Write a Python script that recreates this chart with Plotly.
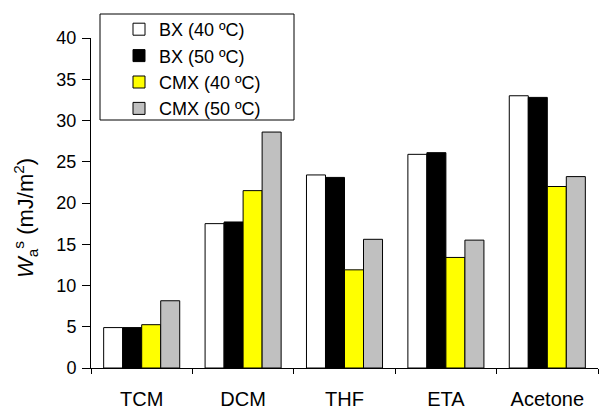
import plotly.graph_objects as go

categories = ["TCM", "DCM", "THF", "ETA", "Acetone"]
bx40 = [4.9, 17.5, 23.4, 25.9, 33.0]
bx50 = [4.9, 17.7, 23.1, 26.1, 32.8]
cmx40 = [5.25, 21.5, 11.9, 13.4, 22.0]
cmx50 = [8.15, 28.6, 15.6, 15.5, 23.2]
series_names = ["BX (40 ºC)", "BX (50 ºC)", "CMX (40 ºC)", "CMX (50 ºC)"]
colors = ["#ffffff", "#000000", "#ffff00", "#c0c0c0"]
y_ticks = [0, 5, 10, 15, 20, 25, 30, 35, 40]
y_title = "<i>W</i><sub>a</sub><sup>s</sup> (mJ/m<sup>2</sup>)"

fig = go.Figure()
for name, vals, col in zip(series_names, [bx40, bx50, cmx40, cmx50], colors):
    fig.add_trace(go.Bar(x=categories, y=vals, name=name,
                         marker=dict(color=col, line=dict(color="#000000", width=1))))

# legend frame (decoration)
fig.add_shape(type="rect", xref="paper", yref="paper",
              x0=(100 - 91) / 507, x1=(294 - 91) / 507,
              y0=(368 - 120) / 330, y1=(368 - 14) / 330,
              line=dict(color="#000000", width=1), fillcolor="rgba(0,0,0,0)")

fig.add_annotation(text=y_title, xref="paper", yref="paper",
                   x=(25 - 91) / 507, y=(368 - 218) / 330,
                   xanchor="center", yanchor="middle", textangle=-90,
                   showarrow=False, font=dict(size=22))

fig.update_layout(
    width=599, height=412,
    margin=dict(l=91, r=1, t=38, b=44),
    paper_bgcolor="white", plot_bgcolor="white",
    font=dict(family="Liberation Sans, Arial, sans-serif", size=18, color="#000000"),
    barmode="group", bargap=0.25, bargroupgap=0,
    legend=dict(x=(119 - 91) / 507, y=(368 - 11) / 330, xanchor="left", yanchor="top",
                borderwidth=0, bgcolor="rgba(0,0,0,0)",
                font=dict(size=18), tracegroupgap=0, itemwidth=30),
    xaxis=dict(showline=True, linecolor="#000000", linewidth=1, ticks="outside",
               tickson="boundaries", ticklen=5, tickcolor="#000000", showgrid=False,
               tickfont=dict(size=20), ticklabelstandoff=13),
    yaxis=dict(range=[0, 40], tickvals=y_ticks, showline=True, linecolor="#000000",
               linewidth=1, ticks="outside", ticklen=8, tickcolor="#000000",
               showgrid=False, zeroline=False, tickfont=dict(size=18),
               ticklabelstandoff=2),
)
fig.write_html("out.html")
